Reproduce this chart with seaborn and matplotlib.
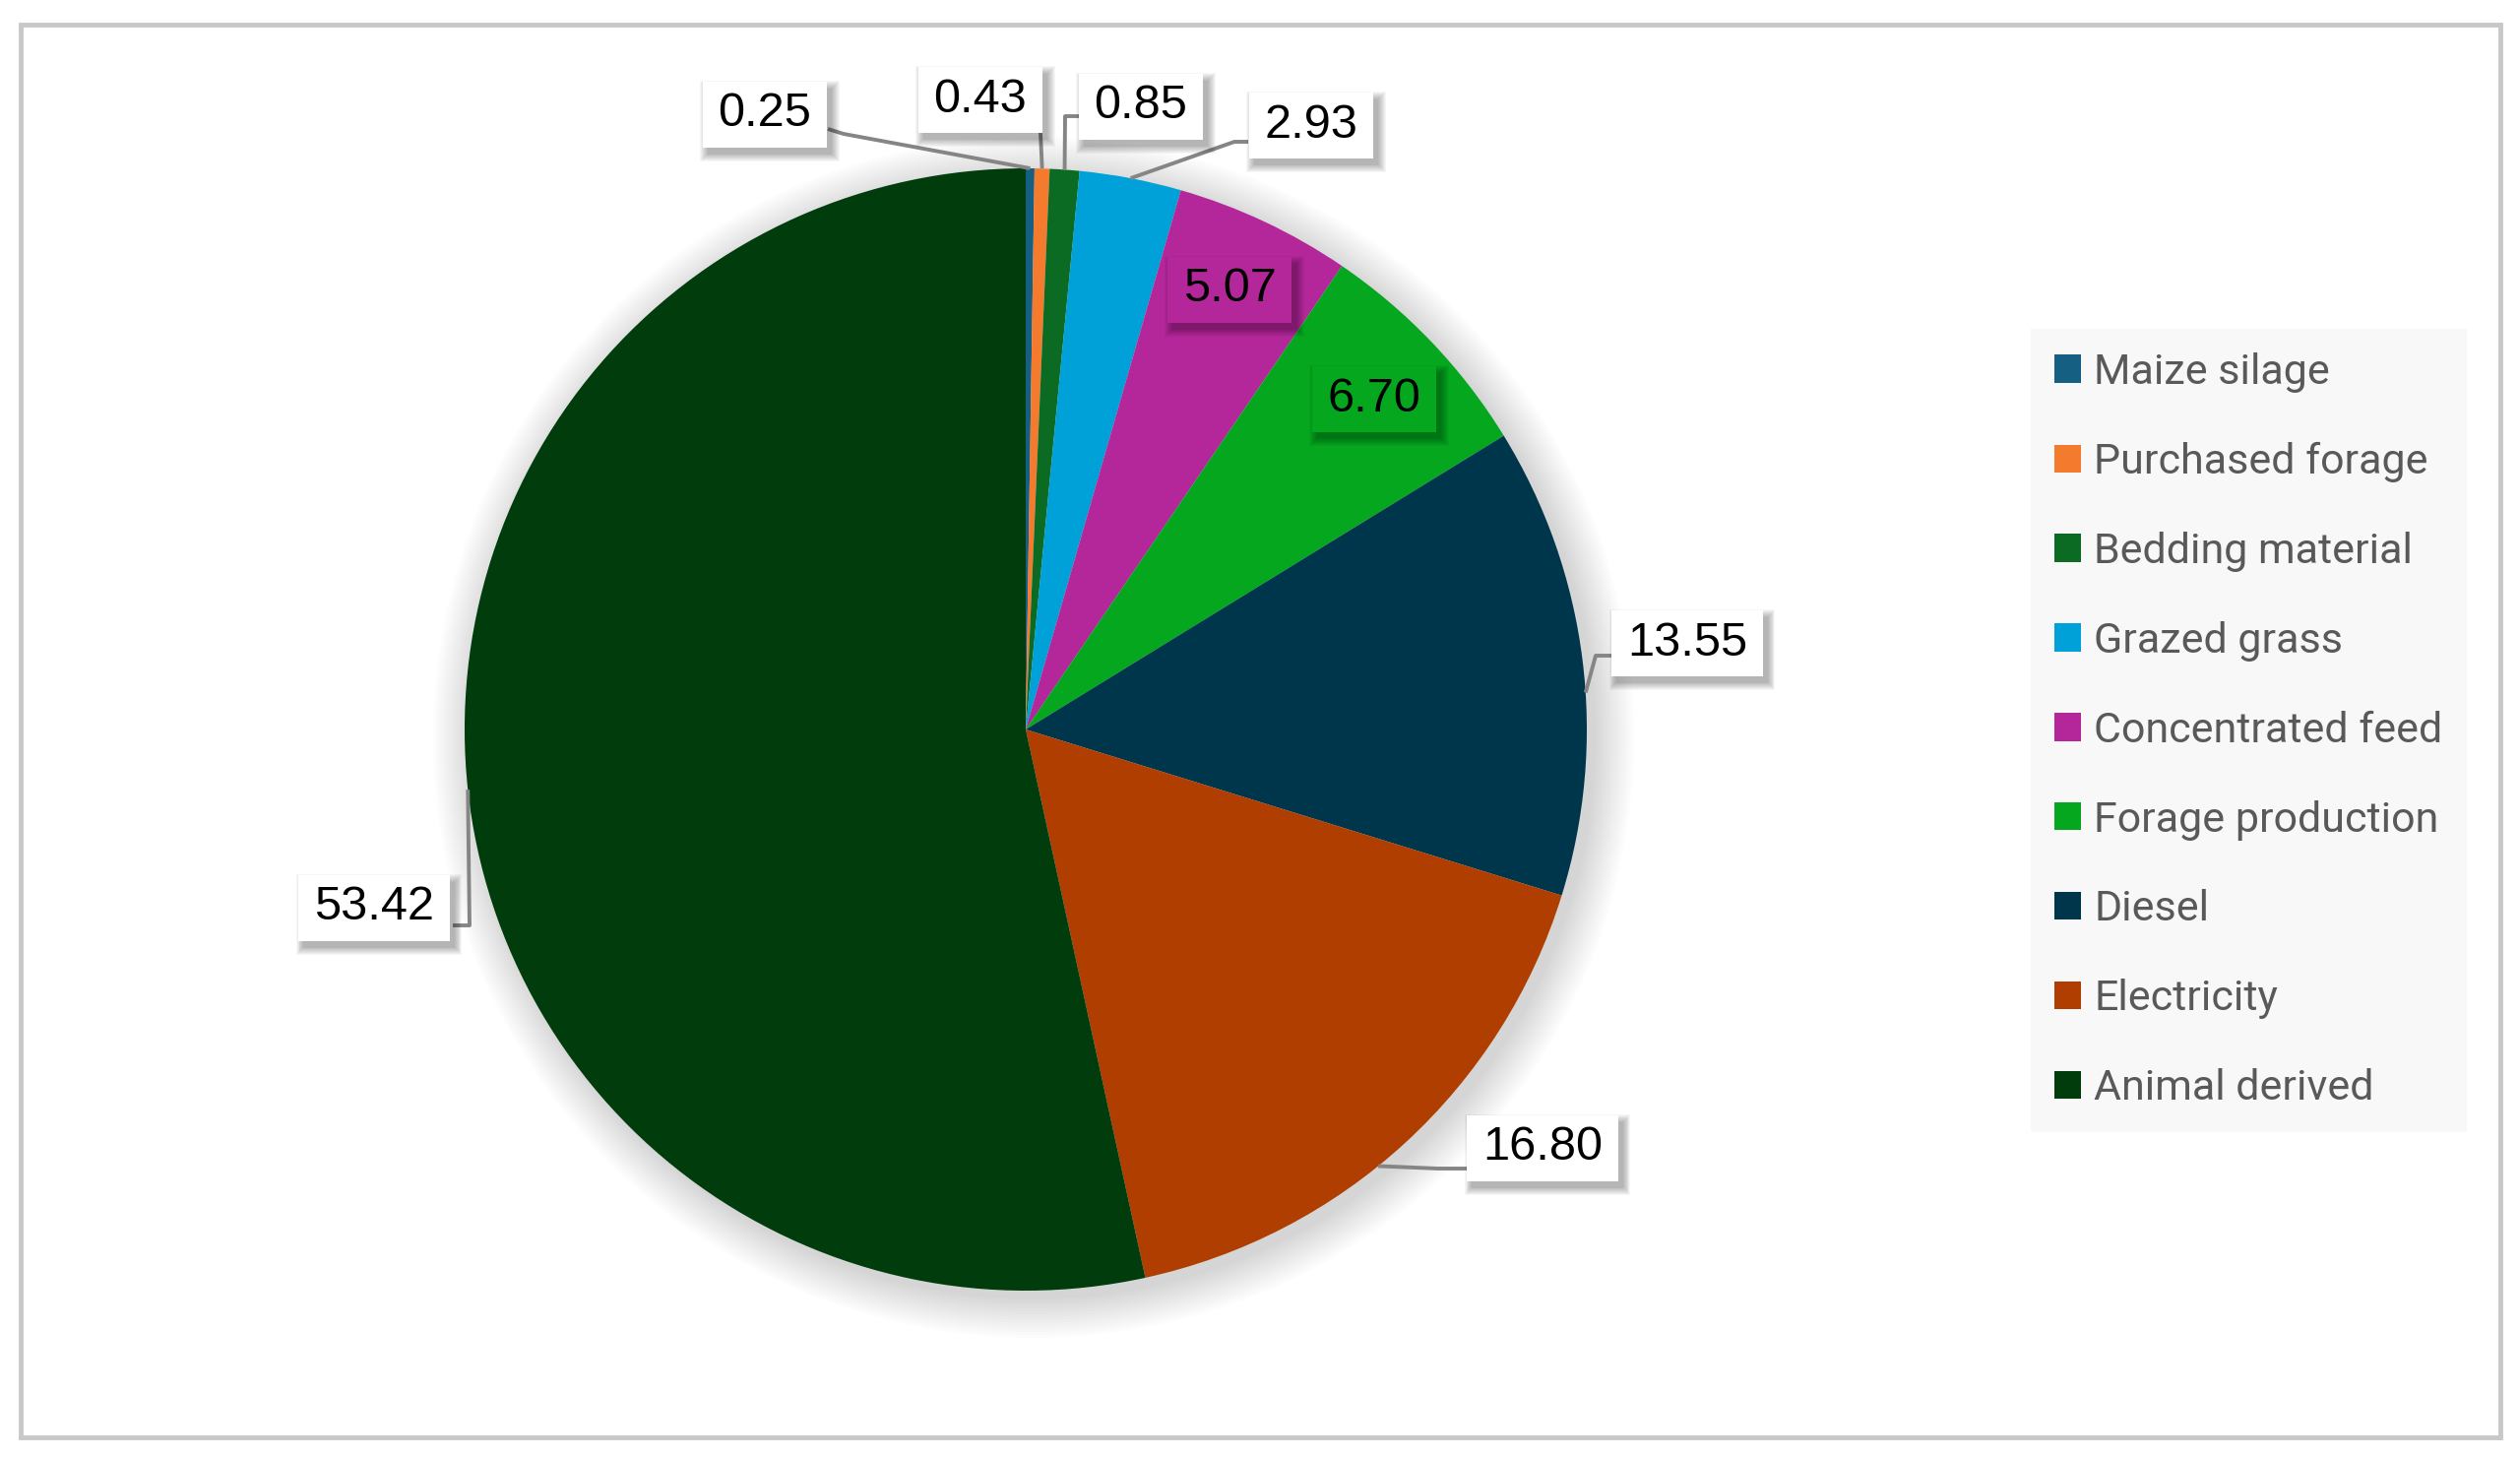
import matplotlib
matplotlib.use("Agg")
import matplotlib.pyplot as plt
import seaborn as sns
from matplotlib.patches import Rectangle, Circle
import numpy as np

# ---------------- data ----------------
categories = ["Maize silage", "Purchased forage", "Bedding material", "Grazed grass",
              "Concentrated feed", "Forage production", "Diesel", "Electricity",
              "Animal derived"]
values = [0.25, 0.43, 0.85, 2.93, 5.07, 6.70, 13.55, 16.80, 53.42]
hex_colors = ["#156082", "#F47A2E", "#0B6B22", "#00A0D8", "#B4279A",
              "#05A71F", "#00364C", "#AF3E00", "#013C0D"]

# ---------------- layout (pixels, y measured from top) ----------------
W, H = 2560, 1480
CX, CY, R = 1042, 741, 570
# label text centre, leader start, leader elbow, anchor fraction in wedge (clockwise), inside?
label_layout = [
    ((777, 116), (841, 131), (857, 136), 0.5, False),
    ((996, 101), (1056, 125), (1057, 135), 0.5, False),
    ((1159, 108), (1112, 118), (1082, 118), 0.5, False),
    ((1332, 127), (1268, 144), (1254, 144), 0.5, False),
    ((1249, 294), None, None, 0.5, True),
    ((1396, 405), None, None, 0.5, True),
    ((1714, 653), (1641, 666), (1621, 666), 0.57, False),
    ((1567, 1166), (1494, 1187), (1461, 1187), 0.56, False),
    ((380, 922), (460, 940), (477, 940), 0.5, False),
]

sns.set_theme(style="white")
plt.rcParams["font.family"] = ["Liberation Sans", "DejaVu Sans"]
palette = sns.color_palette(hex_colors)

fig = plt.figure(figsize=(W / 100, H / 100), dpi=100)
fig.patch.set_facecolor("white")
ax = fig.add_axes([0, 0, 1, 1])


def py(y):
    return H - y


# soft pie shadow
for k in range(14):
    ax.add_patch(Circle((CX + 8, py(CY + 8)), R + 1 + k * 3.0, facecolor="black",
                        edgecolor="none", alpha=0.011, zorder=0.5))

wedges, _ = ax.pie(values, colors=palette, startangle=90, counterclock=False,
                   center=(CX, py(CY)), radius=R,
                   wedgeprops=dict(linewidth=0, zorder=1))
ax.set_xlim(0, W)
ax.set_ylim(0, H)
ax.set_aspect("equal")
ax.axis("off")

# labels
texts = []
for val, w, col, (tpos, start, elbow, frac, inside) in zip(values, wedges, palette, label_layout):
    t = ax.text(tpos[0], py(tpos[1]), f"{val:.2f}", ha="center", va="center",
                fontsize=35, color="black", zorder=6,
                family=["Liberation Sans", "DejaVu Sans"])
    texts.append((t, col, inside))
    if start is not None:
        ang = np.deg2rad(w.theta2 - frac * (w.theta2 - w.theta1))
        axx = CX + R * np.cos(ang)
        ayy = py(CY) + R * np.sin(ang)
        ax.plot([start[0], elbow[0], axx], [py(start[1]), py(elbow[1]), ayy],
                color="#858585", lw=2.8, zorder=3, solid_capstyle="butt")

fig.canvas.draw()
renderer = fig.canvas.get_renderer()
padx, pady = 16, 11
for t, col, inside in texts:
    bb = t.get_window_extent(renderer)
    x0, y0 = bb.x0 - padx, bb.y0 - pady
    bw, bh = bb.width + 2 * padx, bb.height + 2 * pady
    for k in range(9):
        ax.add_patch(Rectangle((x0 + 5 - k * 0.9, y0 - 7 - k * 0.9), bw + k * 1.8, bh + k * 1.8,
                               facecolor="black", edgecolor="none", alpha=0.035, zorder=4))
    ax.add_patch(Rectangle((x0, y0), bw, bh, facecolor=col if inside else "white",
                           edgecolor="none", zorder=5))

# legend
leg = ax.legend(wedges, categories, loc="center left", bbox_to_anchor=(2063 / W, 1 - 742 / H),
                bbox_transform=fig.transFigure, frameon=True, fancybox=False,
                facecolor="#f8f8f8", edgecolor="none", framealpha=1,
                handlelength=0.63, handleheight=0.63, handletextpad=0.3,
                labelspacing=1.16, borderpad=0.56, borderaxespad=0,
                prop=dict(family=["Roboto", "DejaVu Sans"], size=31))
for txt in leg.get_texts():
    txt.set_color("#595959")

# outer frame
fig.patches.append(Rectangle((21 / W, 1 - 1460 / H), (2540 - 21) / W, (1460 - 25) / H,
                             transform=fig.transFigure, facecolor="none",
                             edgecolor="#c8c8c8", lw=3.5, zorder=10))

fig.savefig("out.png", dpi=100)
